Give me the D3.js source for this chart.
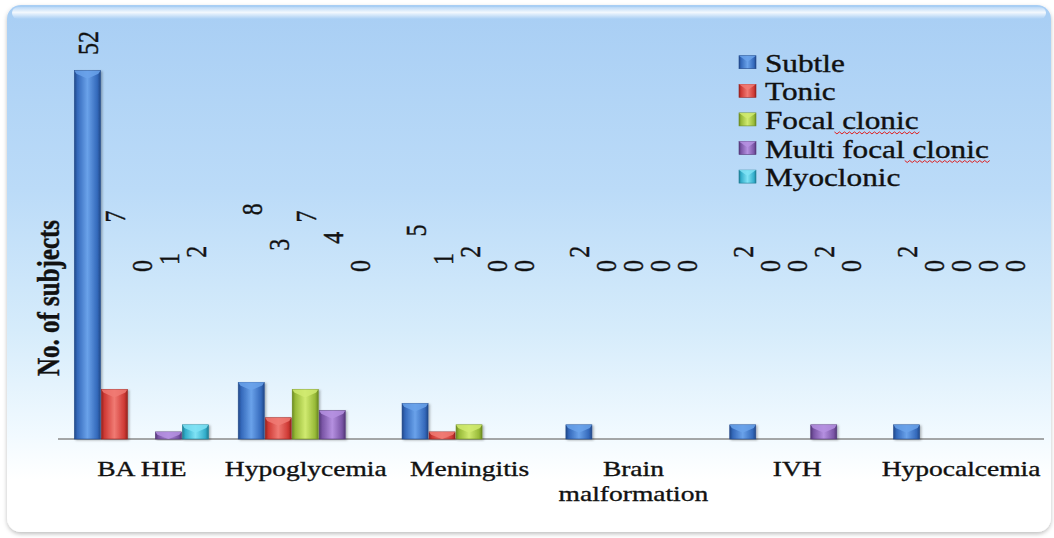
<!DOCTYPE html>
<html>
<head>
<meta charset="utf-8">
<script src="https://cdn.jsdelivr.net/npm/d3@7"></script>
<style>
  html, body { margin: 0; padding: 0; background: #ffffff; }
  svg { display: block; }
  text { font-family: "Liberation Serif", "Times New Roman", serif; fill: #111; stroke: #111; stroke-width: 0.35px; }
</style>
</head>
<body>
<svg id="chart" width="1054" height="538"></svg>
<script>
// ---- data ----
const categories = ["BA HIE", "Hypoglycemia", "Meningitis", "Brain malformation", "IVH", "Hypocalcemia"];
const seriesNames = ["Subtle", "Tonic", "Focal clonic", "Multi focal clonic", "Myoclonic"];
const subtle = [52, 8, 5, 2, 2, 2];
const tonic = [7, 3, 1, 0, 0, 0];
const focalClonic = [0, 7, 2, 0, 0, 0];
const multiFocalClonic = [1, 4, 0, 0, 2, 0];
const myoclonic = [2, 0, 0, 0, 0, 0];
const yDomain = [0, 60];

const seriesValues = [subtle, tonic, focalClonic, multiFocalClonic, myoclonic];
const colors = [
  { base: "#3469bb", dark: "#22498a", light: "#6aa2ea" },
  { base: "#cf3a35", dark: "#96221f", light: "#f07a73" },
  { base: "#98ba38", dark: "#6c8a21", light: "#d0ea70" },
  { base: "#7a55a6", dark: "#543878", light: "#b590e0" },
  { base: "#33aecb", dark: "#1f7d94", light: "#7fe2f5" }
];
const SX = 1.25; // horizontal stretch of text in the picture

const svg = d3.select("#chart");
const defs = svg.append("defs");

// background gradient
const bg = defs.append("linearGradient").attr("id", "bgGrad").attr("x1", 0).attr("y1", 0).attr("x2", 0).attr("y2", 1);
[[0, "#a8cef4"], [0.35, "#bbdbf8"], [0.62, "#d6ecfb"], [0.82, "#f2faff"], [0.9, "#ffffff"], [1, "#ffffff"]]
  .forEach(([o, c]) => bg.append("stop").attr("offset", o).attr("stop-color", c));
const gloss = defs.append("linearGradient").attr("id", "glossGrad").attr("x1", 0).attr("y1", 0).attr("x2", 0).attr("y2", 1);
[[0, "#ffffff", 0.2], [0.45, "#ffffff", 0.85], [1, "#ffffff", 0]]
  .forEach(([o, c, a]) => gloss.append("stop").attr("offset", o).attr("stop-color", c).attr("stop-opacity", a));

const sh = defs.append("filter").attr("id", "bgShadow").attr("x", "-5%").attr("y", "-5%").attr("width", "110%").attr("height", "110%");
sh.append("feDropShadow").attr("dx", 0).attr("dy", 2).attr("stdDeviation", 2).attr("flood-color", "#000").attr("flood-opacity", 0.25);
const barSh = defs.append("filter").attr("id", "barShadow").attr("x", "-20%").attr("y", "-20%").attr("width", "150%").attr("height", "140%");
barSh.append("feDropShadow").attr("dx", 1.5).attr("dy", 1).attr("stdDeviation", 1.2).attr("flood-color", "#000").attr("flood-opacity", 0.3);

colors.forEach((c, i) => {
  const g = defs.append("linearGradient").attr("id", "barGrad" + i).attr("x1", 0).attr("y1", 0).attr("x2", 1).attr("y2", 0);
  [[0, c.dark], [0.12, c.base], [0.5, c.light], [0.88, c.base], [1, c.dark]]
    .forEach(([o, col]) => g.append("stop").attr("offset", o).attr("stop-color", col));
});

// background panel
svg.append("rect").attr("x", 7).attr("y", 5).attr("width", 1044).attr("height", 527)
  .attr("rx", 14).attr("fill", "url(#bgGrad)").attr("filter", "url(#bgShadow)");
svg.append("rect").attr("x", 12).attr("y", 7).attr("width", 1034).attr("height", 12)
  .attr("rx", 6).attr("fill", "url(#glossGrad)");

// scales
const x0 = d3.scaleBand().domain(categories).range([60, 1043]).padding(0);
const x1 = d3.scaleBand().domain(seriesNames).range([14.4, 149.4]).padding(0);
const y = d3.scaleLinear().domain(yDomain).range([439, 14]);
const labelOffset = 173;
const labelTop = 43;

// x axis
const xAxis = d3.axisBottom(x0).tickSize(0).tickFormat("");
const axG = svg.append("g").attr("transform", `translate(0,${y(0)})`).call(xAxis);
axG.select(".domain").attr("stroke", "#8a8a8a").attr("stroke-width", 1.5).attr("d", "M-1,0H985").attr("transform", "translate(59,0)");

// category labels
categories.forEach(cat => {
  const cx = x0(cat) + x0.bandwidth() / 2;
  const words = cat === "Brain malformation" ? ["Brain", "malformation"] : [cat];
  words.forEach((w, k) => {
    svg.append("text")
      .attr("transform", `translate(${cx},${476 + k * 25}) scale(${SX},1)`)
      .attr("text-anchor", "middle")
      .attr("font-size", 22)
      .text(w);
  });
});

// bars
const barsG = svg.append("g");
seriesNames.forEach((s, si) => {
  const vals = seriesValues[si];
  categories.forEach((cat, ci) => {
    const v = vals[ci];
    if (v <= 0) return;
    const bx = x0(cat) + x1(s);
    const bw = x1.bandwidth() - 1;
    const top = y(v);
    const h = y(0) - top;
    const g = barsG.append("g").attr("filter", "url(#barShadow)");
    g.append("rect").attr("x", bx).attr("y", top).attr("width", bw).attr("height", h)
      .attr("fill", `url(#barGrad${si})`).attr("stroke", colors[si].dark).attr("stroke-width", 0.6);
    const bev = Math.min(8, h);
    g.append("path")
      .attr("d", `M${bx},${top}L${bx + bw},${top}L${bx + bw - 2},${top + bev * 0.4}L${bx + bw / 2},${top + bev}L${bx + 2},${top + bev * 0.4}Z`)
      .attr("fill", colors[si].light).attr("opacity", 0.85);
  });
});

// data labels (rotated)
seriesNames.forEach((s, si) => {
  const vals = seriesValues[si];
  categories.forEach((cat, ci) => {
    const v = vals[ci];
    const cx = x0(cat) + x1(s) + x1.bandwidth() / 2;
    const cy = Math.max(labelTop, y(v) - labelOffset);
    svg.append("text")
      .attr("transform", `translate(${cx},${cy}) scale(${SX},1) rotate(-90)`)
      .attr("text-anchor", "middle")
      .attr("dominant-baseline", "central")
      .attr("font-size", 24)
      .text(v);
  });
});

// y axis title
svg.append("text")
  .attr("transform", `translate(49,298) scale(${SX},1) rotate(-90)`)
  .attr("text-anchor", "middle")
  .attr("dominant-baseline", "central")
  .attr("font-size", 25)
  .attr("font-weight", "bold")
  .text("No. of subjects");

// legend
const legend = svg.append("g");
seriesNames.forEach((s, i) => {
  const cy = 62.7 + i * 28.6;
  const g = legend.append("g");
  g.append("rect").attr("x", 739).attr("y", cy - 7).attr("width", 17).attr("height", 13)
    .attr("fill", `url(#barGrad${i})`).attr("stroke", colors[i].dark).attr("stroke-width", 0.6);
  g.append("path").attr("d", `M739,${cy - 7}L756,${cy - 7}L747.5,${cy - 1}Z`).attr("fill", colors[i].light).attr("opacity", 0.85);
  const t = g.append("text")
    .attr("transform", `translate(765,${cy + 9}) scale(${SX},1)`)
    .attr("font-size", 25)
    .text(s);
  // spell-check squiggle under "clonic"
  if (s.includes("clonic") && s !== "Myoclonic") {
    const full = t.node().getComputedTextLength();
    const idx = s.lastIndexOf("clonic");
    const tmp = g.append("text").attr("font-size", 25).attr("visibility", "hidden").text(s.slice(0, idx));
    const pre = tmp.node().getComputedTextLength();
    tmp.remove();
    const xs = 765 + pre * SX, xe = 765 + full * SX;
    let d = `M${xs},${cy + 12}`;
    for (let xx = xs, k = 0; xx < xe; xx += 2.5, k++) d += `L${xx + 2.5},${cy + 12 + (k % 2 ? 0 : 2)}`;
    g.append("path").attr("d", d).attr("fill", "none").attr("stroke", "#e02020").attr("stroke-width", 1);
  }
});
</script>
</body>
</html>
